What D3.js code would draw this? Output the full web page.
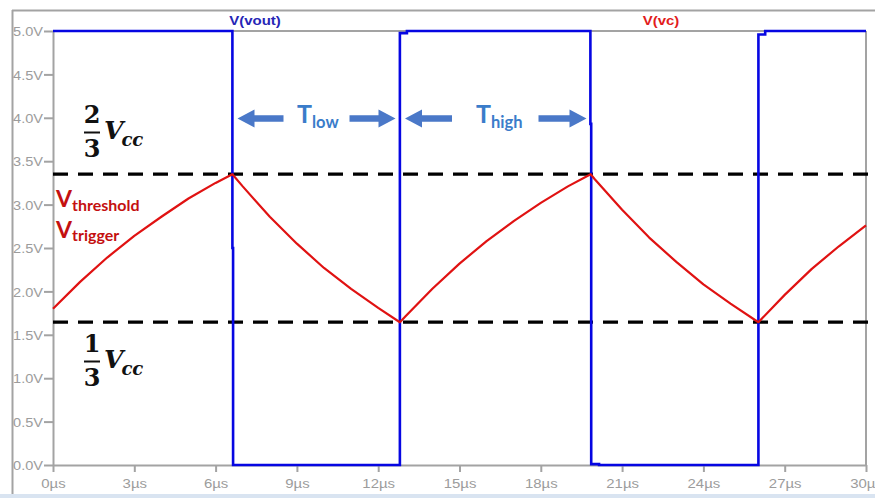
<!DOCTYPE html>
<html>
<head>
<meta charset="utf-8">
<script src="https://cdn.jsdelivr.net/npm/d3@7"></script>
<style>
  body { margin: 0; background: #fff; }
  svg { display: block; }
</style>
</head>
<body>
<svg id="chart" width="875" height="498"></svg>
<script>
// 555 astable timing: output voltage and capacitor voltage vs time
const traceNames = ["V(vout)", "V(vc)"];

// Output pin V(vout), volts at each time (µs)
const voutTimes = [0, 6.62, 6.62, 6.645, 6.645, 12.80, 12.80, 13.06, 13.06, 19.83, 19.83, 19.86, 19.86, 20.15, 20.15, 26.03, 26.03, 26.28, 26.28, 30];
const voutVolts = [5, 5, 2.5, 2.5, 0, 0, 4.975, 4.975, 5, 5, 3.93, 3.93, 0.01, 0.01, 0, 0, 4.96, 4.96, 5, 5];

// Capacitor voltage V(vc)
const vcTimes = [0, 1, 2, 3, 4, 5, 6, 6.62, 7, 8, 9, 10, 11, 12, 12.80, 13, 14, 15, 16, 17, 18, 19, 19.84, 20, 21, 22, 23, 24, 25, 26.03, 27, 28, 29, 30];
const vcVolts = [1.80, 2.11, 2.39, 2.64, 2.86, 3.07, 3.25, 3.35, 3.21, 2.86, 2.55, 2.27, 2.03, 1.81, 1.645, 1.71, 2.03, 2.32, 2.58, 2.81, 3.02, 3.21, 3.35, 3.29, 2.94, 2.62, 2.34, 2.08, 1.86, 1.645, 1.96, 2.26, 2.52, 2.76];

// Comparator levels: 2/3 Vcc and 1/3 Vcc
const thresholdLevels = [3.35, 1.645];

// Axis ticks
const yTickValues = [0, 0.5, 1, 1.5, 2, 2.5, 3, 3.5, 4, 4.5, 5];
const xTickValues = [0, 3, 6, 9, 12, 15, 18, 21, 24, 27, 30];

const W = 875, H = 498;
const svg = d3.select("#chart");

const x = d3.scaleLinear().domain([0, 30]).range([53, 866]);
const y = d3.scaleLinear().domain([0, 5]).range([465, 31]);

const gray = "#a3a3a3";
const labelGray = "#9c9c9c";

// window frame and status strip
svg.append("rect").attr("x", 0).attr("y", 494).attr("width", W).attr("height", 4).attr("fill", "#d9e4f1");
svg.append("line").attr("x1", 12).attr("x2", W).attr("y1", 10.5).attr("y2", 10.5)
  .attr("stroke", gray).attr("stroke-width", 2);
svg.append("line").attr("x1", 12.5).attr("x2", 12.5).attr("y1", 10).attr("y2", 494)
  .attr("stroke", gray).attr("stroke-width", 2);

// plot box: top and right edges
svg.append("line").attr("x1", x(0)).attr("x2", x(30)).attr("y1", y(5)).attr("y2", y(5))
  .attr("stroke", gray).attr("stroke-width", 2);
svg.append("line").attr("x1", x(30)).attr("x2", x(30)).attr("y1", y(5)).attr("y2", y(0))
  .attr("stroke", gray).attr("stroke-width", 2);

// axes
const tickFont = "'Liberation Sans', Arial, sans-serif";
const yAxis = d3.axisLeft(y).tickValues(yTickValues).tickSize(9).tickSizeOuter(0)
  .tickFormat(d => d.toFixed(1) + "V");
const gy = svg.append("g").attr("transform", `translate(${x(0)},0)`).call(yAxis);
gy.select(".domain").attr("stroke", gray).attr("stroke-width", 2);
gy.selectAll(".tick line").attr("stroke", gray).attr("stroke-width", 2);
gy.selectAll(".tick text")
  .attr("x", null).attr("dy", "0.36em")
  .attr("transform", "translate(-10,0) scale(1.12,1)")
  .attr("fill", labelGray).style("font-family", tickFont).style("font-size", "13px");

const xAxis = d3.axisBottom(x).tickValues(xTickValues).tickSize(7).tickSizeOuter(0)
  .tickFormat(d => d + "µs");
const gx = svg.append("g").attr("transform", `translate(0,${y(0)})`).call(xAxis);
gx.select(".domain").attr("stroke", gray).attr("stroke-width", 2);
gx.selectAll(".tick line").attr("stroke", gray).attr("stroke-width", 2);
gx.selectAll(".tick text")
  .attr("y", null).attr("dy", null)
  .attr("transform", "translate(0,22.5) scale(1.15,1)")
  .attr("fill", labelGray).style("font-family", tickFont).style("font-size", "13px");

// trace names above the plot
const header = [
  { name: traceNames[0], cx: 255, color: "#2626b6" },
  { name: traceNames[1], cx: 661, color: "#e21c1c" }
];
svg.selectAll("text.trace-name").data(header).join("text")
  .attr("class", "trace-name")
  .attr("transform", d => `translate(${d.cx},25) scale(1.2,1)`)
  .attr("text-anchor", "middle")
  .attr("fill", d => d.color)
  .style("font-family", tickFont).style("font-weight", "bold").style("font-size", "12.5px")
  .text(d => d.name);

// dashed comparator levels
svg.selectAll("line.level").data(thresholdLevels).join("line")
  .attr("class", "level")
  .attr("x1", x(0)).attr("x2", W)
  .attr("y1", d => y(d)).attr("y2", d => y(d))
  .attr("stroke", "#000").attr("stroke-width", 3.2)
  .attr("stroke-dasharray", "15,10");

// traces
const vout = voutTimes.map((t, i) => [t, voutVolts[i]]);
const vc = vcTimes.map((t, i) => [t, vcVolts[i]]);
const line = d3.line().x(d => x(d[0])).y(d => y(d[1]));

svg.append("path").datum(vout).attr("d", line)
  .attr("fill", "none").attr("stroke", "#0606e2").attr("stroke-width", 2.6)
  .attr("stroke-linejoin", "miter");
svg.append("path").datum(vc).attr("d", line)
  .attr("fill", "none").attr("stroke", "#e01212").attr("stroke-width", 2.2)
  .attr("stroke-linejoin", "round");

// fractions 2/3 Vcc and 1/3 Vcc
const serif = "'DejaVu Serif', 'Liberation Serif', serif";
function fraction(num, baseY) {
  const g = svg.append("g");
  g.append("text").attr("x", 92).attr("y", baseY).attr("text-anchor", "middle")
    .style("font-family", serif).style("font-weight", "bold").style("font-size", "24px")
    .attr("fill", "#111").text(num);
  g.append("line").attr("x1", 84).attr("x2", 100).attr("y1", baseY + 9.5).attr("y2", baseY + 9.5)
    .attr("stroke", "#111").attr("stroke-width", 2);
  g.append("text").attr("x", 92).attr("y", baseY + 34).attr("text-anchor", "middle")
    .style("font-family", serif).style("font-weight", "bold").style("font-size", "24px")
    .attr("fill", "#111").text("3");
  const t = g.append("text").attr("x", 104).attr("y", baseY + 16)
    .style("font-family", serif).style("font-weight", "bold").style("font-style", "italic")
    .attr("fill", "#111");
  t.append("tspan").style("font-size", "25px").text("V");
  t.append("tspan").attr("dy", 7).attr("dx", -2).style("font-size", "18px").text("cc");
}
fraction("2", 123);
fraction("1", 352);

// V_threshold / V_trigger labels
const sans = "Lato, 'Open Sans', sans-serif";
function subLabel(main, sub, px, py, color, mainSize, subSize, drop) {
  const t = svg.append("text").attr("x", px).attr("y", py)
    .attr("fill", color).style("font-family", sans).style("font-weight", "bold");
  t.append("tspan").style("font-size", mainSize + "px").text(main);
  t.append("tspan").attr("dy", drop).style("font-size", subSize + "px").text(sub);
}
subLabel("V", "threshold", 56, 207, "#c41010", 23, 16, 3.5);
subLabel("V", "trigger", 56, 237.5, "#c41010", 23, 16, 3.5);

// period arrows and labels
const arrowColor = "#4a78c8";
function arrow(tip, tail, yy) {
  const dir = tail > tip ? 1 : -1;
  const head = 17, hh = 9, sh = 3.3;
  const hb = tip + dir * head;
  const pts = [[tip, yy], [hb, yy - hh], [hb, yy - sh], [tail, yy - sh], [tail, yy + sh], [hb, yy + sh], [hb, yy + hh]];
  svg.append("path").attr("d", "M" + pts.map(p => p.join(",")).join("L") + "Z").attr("fill", arrowColor);
}
arrow(237.5, 283.5, 118.5);
arrow(395.5, 349.5, 118.5);
arrow(405, 452, 118.5);
arrow(586.5, 538.5, 118.5);

subLabel("T", "low", 297, 123, "#3a7cca", 25, 16.5, 5);
subLabel("T", "high", 476, 123, "#3a7cca", 25, 16.5, 5);
</script>
</body>
</html>
